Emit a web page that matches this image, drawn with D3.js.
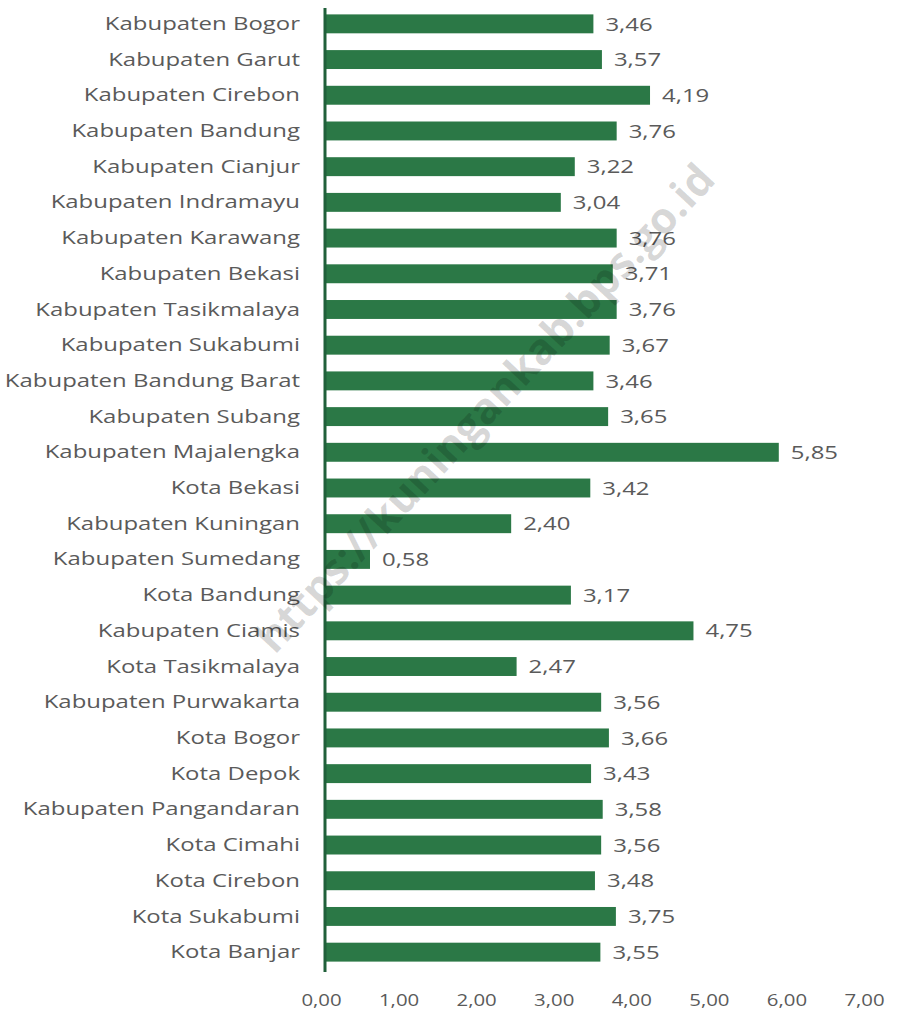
<!DOCTYPE html>
<html><head><meta charset="utf-8">
<script src="https://cdn.jsdelivr.net/npm/d3@7"></script>
<style>
html,body{margin:0;padding:0;background:#fff;}
svg{display:block;}
text{font-family:"Open Sans",sans-serif;}
</style></head>
<body>
<svg id="chart" width="900" height="1018"></svg>
<script>
const categories = ["Kabupaten Bogor","Kabupaten Garut","Kabupaten Cirebon","Kabupaten Bandung","Kabupaten Cianjur","Kabupaten Indramayu","Kabupaten Karawang","Kabupaten Bekasi","Kabupaten Tasikmalaya","Kabupaten Sukabumi","Kabupaten Bandung Barat","Kabupaten Subang","Kabupaten Majalengka","Kota Bekasi","Kabupaten Kuningan","Kabupaten Sumedang","Kota Bandung","Kabupaten Ciamis","Kota Tasikmalaya","Kabupaten Purwakarta","Kota Bogor","Kota Depok","Kabupaten Pangandaran","Kota Cimahi","Kota Cirebon","Kota Sukabumi","Kota Banjar"];
const values = [3.46,3.57,4.19,3.76,3.22,3.04,3.76,3.71,3.76,3.67,3.46,3.65,5.85,3.42,2.40,0.58,3.17,4.75,2.47,3.56,3.66,3.43,3.58,3.56,3.48,3.75,3.55];
const ticks = [0,1,2,3,4,5,6,7];
const watermark = "https://kuningankab.bps.go.id";

const fmt = v => v.toFixed(2).replace(".", ",");
const svg = d3.select("#chart");
const x = d3.scaleLinear().domain([0,7]).range([325, 868]);
const y = d3.scaleBand().domain(categories).range([6, 970]).paddingInner(0.47).paddingOuter(0.235);
const data = categories.map((c,i)=>({c, v: values[i]}));
const sx = 1.26;
const fs = 19;
const txt = "#5a5a5a";

// bars
svg.append("g").selectAll("rect").data(data).join("rect")
  .attr("x", x(0)+1).attr("y", d=>y(d.c))
  .attr("width", d=>x(d.v)-x(0)-1).attr("height", y.bandwidth())
  .attr("fill", "#2b7846");

// value labels
svg.append("g").selectAll("text").data(data).join("text")
  .attr("transform", d=>`translate(${x(d.v)+12},${y(d.c)+y.bandwidth()/2}) scale(${sx},1)`)
  .attr("dy","0.35em").attr("font-size",fs).attr("fill",txt)
  .text(d=>fmt(d.v));

// y axis (category labels)
const yAxis = svg.append("g").attr("transform",`translate(${x(0)},0)`)
  .call(d3.axisLeft(y).tickSize(0).tickPadding(25));
yAxis.select(".domain").remove();
yAxis.selectAll("text").attr("font-size",fs).attr("fill",txt)
  .attr("font-family","Open Sans, sans-serif")
  .attr("transform",`scale(${sx},1)`)
  .attr("x", -25/sx);
svg.append("line").attr("x1",x(0)).attr("x2",x(0)).attr("y1",8).attr("y2",972)
  .attr("stroke","#20603a").attr("stroke-width",3);

// x axis labels
const xAxis = svg.append("g").attr("transform","translate(0,991)")
  .call(d3.axisBottom(x).tickValues(ticks).tickSize(0).tickFormat(fmt));
xAxis.select(".domain").remove();
xAxis.selectAll("text").attr("font-size",17).attr("fill",txt)
  .attr("font-family","Open Sans, sans-serif")
  .attr("transform",`scale(1.2,1)`).attr("x", -4/1.2);

// watermark
svg.append("text")
  .attr("transform","translate(485,408) rotate(-47)")
  .attr("text-anchor","middle").attr("dy","0.35em")
  .attr("font-size",43).attr("font-weight","bold")
  .attr("fill","#000").attr("fill-opacity",0.16)
  .text(watermark);
</script>
</body></html>
